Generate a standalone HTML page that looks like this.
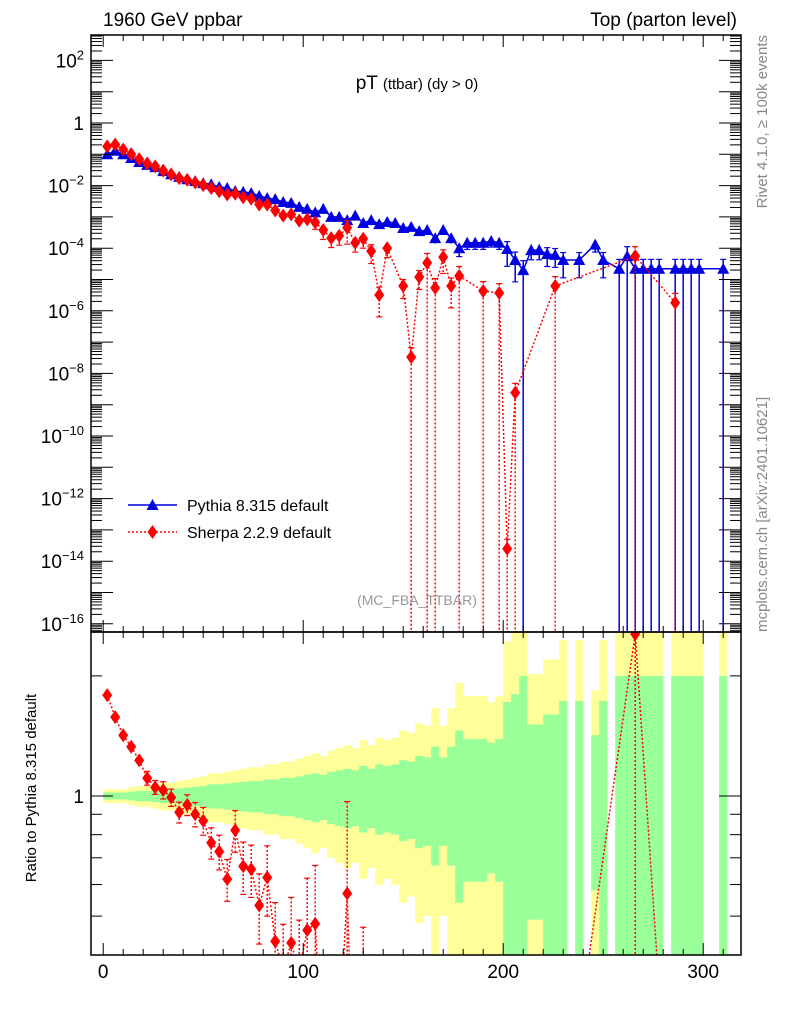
<!DOCTYPE html>
<html><head><meta charset="utf-8"><style>
html,body{margin:0;padding:0;background:#fff;width:786px;height:1024px;overflow:hidden;}
svg{display:block;font-family:"Liberation Sans",Arial,sans-serif;}
</style></head><body>
<svg id="chart" width="786" height="1024" viewBox="0 0 786 1024" xmlns="http://www.w3.org/2000/svg">
<defs>
<clipPath id="clipMain"><rect x="91" y="35" width="650" height="597"/></clipPath>
<clipPath id="clipRatio"><rect x="91" y="632" width="650" height="323"/></clipPath>
</defs>
<g id="bands" clip-path="url(#clipRatio)"></g>
<g id="mainMarks" clip-path="url(#clipMain)"></g>
<g id="ratioMarks" clip-path="url(#clipRatio)"></g>
<g id="axes"></g>
<text x="103" y="26" font-size="19">1960 GeV ppbar</text>
<text x="737" y="26" font-size="19" text-anchor="end">Top (parton level)</text>
<text x="417" y="89" text-anchor="middle" font-size="19">pT <tspan font-size="15">(ttbar) (dy &gt; 0)</tspan></text>
<text x="417" y="605" text-anchor="middle" font-size="14" fill="#999">(MC_FBA_TTBAR)</text>
<text transform="translate(767,35) rotate(-90)" text-anchor="end" font-size="15" fill="#888">Rivet 4.1.0, ≥ 100k events</text>
<text transform="translate(767,632) rotate(-90)" font-size="15" fill="#888">mcplots.cern.ch [arXiv:2401.10621]</text>
<text transform="translate(36,788) rotate(-90)" text-anchor="middle" font-size="15">Ratio to Pythia 8.315 default</text>
<g>
<g>
<line x1="128" y1="505" x2="177" y2="505" stroke="#0000e0" stroke-width="1.5"/>
<polygon points="146.5,510 158.5,510 152.5,499" fill="#0000e0"/>
<text x="187" y="511" font-size="16">Pythia 8.315 default</text>
</g>
<g>
<line x1="128" y1="532" x2="177" y2="532" stroke="#ff0000" stroke-width="1.5" stroke-dasharray="2,2"/>
<polygon points="152.5,525 157.5,532 152.5,539 147.5,532" fill="#ff0000"/>
<text x="187" y="538" font-size="16">Sherpa 2.2.9 default</text>
</g>
</g>
</svg>
<script>
// ---- data ----
const binWidth = 4;
const pythiaValues = [0.10,0.13,0.10,0.076,0.057,0.046,0.039,0.029,0.023,0.019,0.016,0.014,0.012,0.011,0.0091,0.0084,0.0067,0.0063,0.0058,0.0047,0.0040,0.0037,0.0030,0.0028,0.0021,0.0018,0.0014,0.0018,0.0010,0.0010,7.9e-4,1.1e-3,6.4e-4,7.9e-4,5.9e-4,6.9e-4,6.4e-4,4.4e-4,4.8e-4,3.5e-4,3.8e-4,2.1e-4,3.8e-4,2.1e-4,1.0e-4,1.5e-4,1.5e-4,1.5e-4,1.7e-4,1.5e-4,9.4e-5,4.2e-5,2.0e-5,8.7e-5,8.7e-5,6.5e-5,6.1e-5,4.2e-5,0,4.2e-5,0,1.3e-4,4.2e-5,0,2.2e-5,5.6e-5,2.2e-5,2.2e-5,2.2e-5,2.2e-5,0,2.2e-5,2.2e-5,2.2e-5,2.2e-5,0,0,2.2e-5];
const pythiaErr = [0.02,0.02,0.02,0.025,0.03,0.03,0.035,0.04,0.04,0.045,0.05,0.055,0.06,0.07,0.07,0.075,0.08,0.085,0.09,0.09,0.1,0.1,0.11,0.11,0.12,0.13,0.14,0.13,0.15,0.16,0.17,0.16,0.19,0.17,0.2,0.19,0.2,0.23,0.22,0.26,0.25,0.33,0.25,0.33,0.46,0.39,0.39,0.39,0.36,0.39,0.72,0.8,1,0.51,0.51,0.6,0.6,0.73,0,0.73,0,0.42,0.73,0,1,1,1,1,1,1,0,1,1,1,1,0,0,1];
const sherpaValues = [0.179,0.205,0.142,0.101,0.070,0.051,0.041,0.030,0.0228,0.0173,0.0152,0.0126,0.0104,0.0084,0.0066,0.0052,0.0055,0.0042,0.0038,0.0025,0.0025,0.0016,0.0011,0.0012,7.6e-4,8.3e-4,6.7e-4,3.8e-4,2.1e-4,2.5e-4,4.5e-4,1.5e-4,2.0e-4,8.1e-5,3.2e-6,1.0e-4,0,6.2e-6,3.3e-8,1.2e-5,3.4e-5,5.4e-6,5.2e-5,6.2e-6,1.3e-5,0,0,4.3e-6,0,3.7e-6,2.5e-14,2.4e-9,0,0,0,0,6.2e-6,0,0,0,0,0,0,0,0,0,5.6e-5,0,0,0,0,1.8e-6,0,0,0,0,0,0];
const sherpaErr = [0.02,0.02,0.02,0.03,0.03,0.04,0.04,0.05,0.05,0.06,0.06,0.07,0.08,0.09,0.1,0.12,0.12,0.15,0.15,0.2,0.2,0.25,0.3,0.3,0.35,0.35,0.4,0.5,0.5,0.5,0.7,0.5,0.5,0.6,0.8,0.5,0,0.6,1,0.6,1,1,0.7,0.8,1,0,0,1,0,1,1,1,0,0,0,0,1,0,0,0,0,0,0,0,0,0,1,0,0,0,0,1,0,0,0,0,0,0];
const xTickLabels = ["0","100","200","300"];
const xTickValues = [0,100,200,300];
const yTickExps = [2,0,-2,-4,-6,-8,-10,-12,-14,-16];
const ratioTickLabels = ["1"];

// ---- scales ----
const X0 = 103.2, XS = 2.0;
function xS(v){ return X0 + XS*v; }
function yMain(v){ return 123 - 31.3*Math.log10(v); }
function yRatio(r){ return 796 - 399*Math.log10(r); }
const MAIN_BOT = 632, MAIN_TOP = 35, R_TOP = 632, R_BOT = 955, XL = 91, XR = 741;
const NS = "http://www.w3.org/2000/svg";
function mk(tag, attrs, parent){ const e = document.createElementNS(NS, tag); for (const k in attrs) e.setAttribute(k, attrs[k]); parent.appendChild(e); return e; }
const centers = pythiaValues.map((_, i) => binWidth*(i+0.5));
function clampY(y, top, bot){ return Math.max(top, Math.min(bot, y)); }

// ---- ratio bands ----
const bands = document.getElementById('bands');
pythiaValues.forEach((v, i) => {
  if (!(v > 0)) return;
  const e = pythiaErr[i];
  const x1 = xS(centers[i]-binWidth/2), x2 = xS(centers[i]+binWidth/2);
  const yHi = clampY(yRatio(1+2*e), R_TOP-2, R_BOT), yLo = (1-2*e) > 0.01 ? clampY(yRatio(1-2*e), R_TOP, R_BOT+2) : R_BOT+2;
  const yb = mk('rect', {x:x1, y:yHi, width:x2-x1+0.3, height:Math.max(0,yLo-yHi), fill:'#ffff99'}, bands);
  
  
  const gHi = clampY(yRatio(1+e), R_TOP-2, R_BOT), gLo = (1-e) > 0.01 ? clampY(yRatio(1-e), R_TOP, R_BOT+2) : R_BOT+2;
  const gb = mk('rect', {x:x1, y:gHi, width:x2-x1+0.3, height:Math.max(0,gLo-gHi), fill:'#99ff99'}, bands);
  
  
});

// ---- series drawing ----
function drawSeries(parent, values, errs, yF, color, dashed, marker, topY, botY, name){
  const pts = [];
  values.forEach((v, i) => { if (v > 0) pts.push([xS(centers[i]), yF(v), v, errs[i]]); });
  // connecting line, segments clipped to panel
  let d = '';
  const lo = topY - 3, hi = botY + 3;
  for (let j = 0; j + 1 < pts.length; j++) {
    let [xa, ya] = pts[j], [xb, yb] = pts[j+1];
    if ((ya < lo && yb < lo) || (ya > hi && yb > hi)) continue;
    const cl = (x1, y1, x2, y2) => {
      let y = y1, x = x1;
      if (y1 > hi) { const t = (hi - y1)/(y2 - y1); x = x1 + t*(x2-x1); y = hi; }
      else if (y1 < lo) { const t = (lo - y1)/(y2 - y1); x = x1 + t*(x2-x1); y = lo; }
      return [x, y];
    };
    const [ax1, ay1] = cl(xa, ya, xb, yb);
    const [bx1, by1] = cl(xb, yb, xa, ya);
    d += `M${ax1.toFixed(1)},${ay1.toFixed(1)}L${bx1.toFixed(1)},${by1.toFixed(1)}`;
  }
  const pl = mk('path', {d: d || 'M0,0', fill:'none', stroke:color, 'stroke-width':1.5}, parent);
  if (dashed) pl.setAttribute('stroke-dasharray', '2,2');
  
  
  pts.forEach(p => {
    const [x, y, v, e] = p;
    const yU = yF(v*(1+e));
    const yD = e >= 0.999 ? botY+3 : yF(v*(1-e));
    if (yU > botY + 3 || (y < topY - 8 && yD < topY)) return;
    if (e > 0) {
      const eb = mk('line', {x1:x, y1:clampY(yU, topY, botY+3), x2:x, y2:clampY(yD, topY, botY+3), stroke:color, 'stroke-width':1.5}, parent);
      if (dashed) eb.setAttribute('stroke-dasharray', '2,2');
      
      
      if (Math.abs(yU-y) > 6 && yU > topY) mk('line', {x1:x-3, y1:yU, x2:x+3, y2:yU, stroke:color, 'stroke-width':1.2}, parent);
      if (e < 0.999 && Math.abs(yD-y) > 6 && yD < botY) mk('line', {x1:x-3, y1:yD, x2:x+3, y2:yD, stroke:color, 'stroke-width':1.2}, parent);
    }
    if (y > botY + 8 || y < topY - 8) return;
    let m;
    if (marker === 'tri') m = mk('polygon', {points:`${x-6},${y+5} ${x+6},${y+5} ${x},${y-6}`, fill:color}, parent);
    else m = mk('polygon', {points:`${x},${y-7} ${x+5},${y} ${x},${y+7} ${x-5},${y}`, fill:color}, parent);
    
    
  });
}
const mainG = document.getElementById('mainMarks');
drawSeries(mainG, pythiaValues, pythiaErr, yMain, '#0000e0', false, 'tri', MAIN_TOP, MAIN_BOT, 'pythia');
drawSeries(mainG, sherpaValues, sherpaErr, yMain, '#ff0000', true, 'dia', MAIN_TOP, MAIN_BOT, 'sherpa');

const ratioVals = sherpaValues.map((v, i) => (v > 0 && pythiaValues[i] > 0) ? v/pythiaValues[i] : 0);
drawSeries(document.getElementById('ratioMarks'), ratioVals, sherpaErr, yRatio, '#ff0000', true, 'dia', R_TOP, R_BOT, 'sherpa-ratio');

// ---- axes ----
const ax = document.getElementById('axes');
const f1 = mk('rect', {x:XL, y:MAIN_TOP, width:XR-XL, height:MAIN_BOT-MAIN_TOP, fill:'none', stroke:'#000', 'stroke-width':1.5}, ax);


const f2 = mk('rect', {x:XL, y:R_TOP, width:XR-XL, height:R_BOT-R_TOP, fill:'none', stroke:'#000', 'stroke-width':1.5}, ax);


for (let v = 0; v <= 310; v += 10) {
  const x = xS(v), major = (v % 100 === 0), len = major ? 12 : 6;
  [[MAIN_BOT,-1],[MAIN_TOP,1],[R_BOT,-1],[R_TOP,1]].forEach(([y0,d]) => mk('line', {x1:x, y1:y0, x2:x, y2:y0+d*len, stroke:'#000', 'stroke-width':1}, ax));
}
xTickValues.forEach((v, i) => {
  const t = mk('text', {x:xS(v), y:978, 'text-anchor':'middle', 'font-size':19}, ax);
  t.textContent = xTickLabels[i];
  
  
});
for (let ex = -17; ex <= 3; ex++) {
  for (let m = 1; m <= 9; m++) {
    const y = yMain(m*Math.pow(10, ex));
    if (y < MAIN_TOP || y > MAIN_BOT) continue;
    const len = m === 1 ? 22 : 11;
    mk('line', {x1:XL, y1:y, x2:XL+len, y2:y, stroke:'#000', 'stroke-width':1}, ax);
    mk('line', {x1:XR, y1:y, x2:XR-len, y2:y, stroke:'#000', 'stroke-width':1}, ax);
  }
}
yTickExps.forEach(ex => {
  const y = yMain(Math.pow(10, ex));
  const t = mk('text', {x:84, y:y+7, 'text-anchor':'end', 'font-size':19}, ax);
  
  
  if (ex === 0) t.textContent = '1';
  else { t.textContent = '10'; const s = mk('tspan', {'font-size':13, dy:-8}, t); s.textContent = String(ex).replace('-', '−'); }
});
[0.5,0.6,0.7,0.8,0.9,1,2].forEach(r => {
  const y = yRatio(r), len = r === 1 ? 22 : 11;
  mk('line', {x1:XL, y1:y, x2:XL+len, y2:y, stroke:'#000', 'stroke-width':1}, ax);
  mk('line', {x1:XR, y1:y, x2:XR-len, y2:y, stroke:'#000', 'stroke-width':1}, ax);
});
const rt = mk('text', {x:84, y:yRatio(1)+7, 'text-anchor':'end', 'font-size':19}, ax);
rt.textContent = ratioTickLabels[0];


</script>
</body></html>
